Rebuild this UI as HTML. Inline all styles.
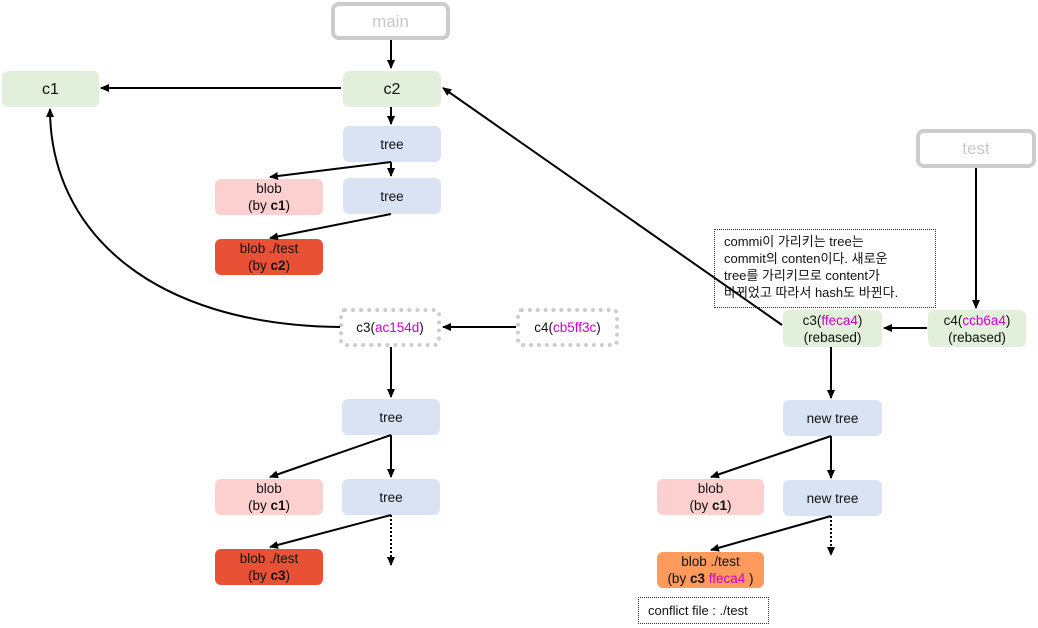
<!DOCTYPE html>
<html><head><meta charset="utf-8"><style>
body{margin:0;width:1038px;height:628px;background:#fff;position:relative;overflow:hidden;font-family:"Liberation Sans","Noto Sans CJK KR",sans-serif;color:#111}
.b{position:absolute;box-sizing:border-box;border-radius:6px;display:flex;align-items:center;justify-content:center;text-align:center;font-size:13.5px;line-height:17px}
.b>span{display:block}
.g{background:#e2efda}.t{background:#dae3f3}.p{background:#fdd0d0}.r{background:#e85135}.o{background:#fd9a5c}
.m{color:#c0c}
.lbl{border:4px solid #ccc;border-radius:8px;color:#c8c8c8;font-size:17px;background:#fff}
.d{border:4px dotted #ccc;background:#fff}
svg{position:absolute;left:0;top:0}
</style></head><body>
<div style="position:absolute;left:714px;top:229px;width:222px;height:79px;box-sizing:border-box;border:1px dotted #333;background:#fff;font-size:13px;line-height:17px;padding:3px 0 0 9px">commi이 가리키는 tree는<br>commit의 conten이다. 새로운<br>tree를 가리키므로 content가<br>바뀌었고 따라서 hash도 바뀐다.</div>
<div class="b lbl" style="left:331px;top:2px;width:119px;height:38px"><span>main</span></div>
<div class="b lbl" style="left:916px;top:129px;width:120px;height:39px"><span>test</span></div>
<div class="b g" style="left:2px;top:71px;width:97px;height:36px;font-size:16px"><span>c1</span></div>
<div class="b g" style="left:343px;top:71px;width:98px;height:36px;font-size:16px"><span>c2</span></div>
<div class="b t" style="left:343px;top:126px;width:98px;height:36px"><span>tree</span></div>
<div class="b p" style="left:215px;top:179px;width:108px;height:36px"><span>blob<br>(by <b>c1</b>)</span></div>
<div class="b t" style="left:343px;top:178px;width:98px;height:36px"><span>tree</span></div>
<div class="b r" style="left:215px;top:239px;width:108px;height:36px"><span>blob ./test<br>(by <b>c2</b>)</span></div>
<div class="b d" style="left:339px;top:308px;width:102px;height:39px"><span>c3(<span class="m">ac154d</span>)</span></div>
<div class="b d" style="left:516px;top:308px;width:103px;height:39px"><span>c4(<span class="m">cb5ff3c</span>)</span></div>
<div class="b t" style="left:342px;top:399px;width:98px;height:36px"><span>tree</span></div>
<div class="b p" style="left:215px;top:479px;width:108px;height:36px"><span>blob<br>(by <b>c1</b>)</span></div>
<div class="b t" style="left:342px;top:479px;width:98px;height:36px"><span>tree</span></div>
<div class="b r" style="left:215px;top:549px;width:108px;height:36px"><span>blob ./test<br>(by <b>c3</b>)</span></div>
<div class="b g" style="left:783px;top:310px;width:99px;height:37px"><span>c3(<span class="m">ffeca4</span>)<br>(rebased)</span></div>
<div class="b g" style="left:928px;top:310px;width:98px;height:37px"><span>c4(<span class="m">ccb6a4</span>)<br>(rebased)</span></div>
<div class="b t" style="left:783px;top:400px;width:99px;height:36px"><span>new tree</span></div>
<div class="b p" style="left:657px;top:479px;width:107px;height:36px"><span>blob<br>(by <b>c1</b>)</span></div>
<div class="b t" style="left:783px;top:480px;width:99px;height:36px"><span>new tree</span></div>
<div class="b o" style="left:657px;top:552px;width:107px;height:36px"><span>blob ./test<br>(by <b>c3</b> <span class="m">ffeca4</span> )</span></div>
<div style="position:absolute;left:638px;top:597px;width:131px;height:27px;box-sizing:border-box;border:1px dotted #333;font-size:13px;line-height:25px;padding-left:9px">conflict file : ./test</div>
<svg width="1038" height="628">
<defs><marker id="a" markerWidth="10" markerHeight="10" refX="8" refY="5" orient="auto" markerUnits="userSpaceOnUse"><path d="M0,1 L9,5 L0,9 z" fill="#000"/></marker></defs>
<g stroke="#000" stroke-width="2" fill="none" marker-end="url(#a)">
<path d="M391,40 V68"/>
<path d="M341,88 H101"/>
<path d="M391,107 V124"/>
<path d="M391,162 L270,177"/>
<path d="M391,162 V176"/>
<path d="M391,214 L270,238"/>
<path d="M340,327 C150,325 50,230 50,109"/>
<path d="M516,327 H443"/>
<path d="M391,347 V397"/>
<path d="M391,435 L270,477"/>
<path d="M391,435 V477"/>
<path d="M391,515 L270,547"/>
<path d="M782,325 L443,88"/>
<path d="M976,168 V308"/>
<path d="M927,328 H884"/>
<path d="M831,347 V398"/>
<path d="M831,436 L711,477"/>
<path d="M831,436 V478"/>
<path d="M831,516 L711,550"/>
<path d="M391,515 V565" stroke-dasharray="2,2"/>
<path d="M831,516 V555" stroke-dasharray="2,2"/>
</g>
</svg>
</body></html>
